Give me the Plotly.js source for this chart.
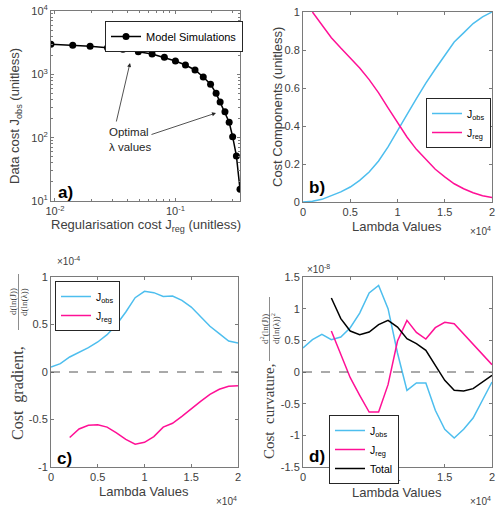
<!DOCTYPE html>
<html><head><meta charset="utf-8">
<script src="https://cdn.plot.ly/plotly-3.0.1.min.js"></script>
<style>html,body{margin:0;padding:0;background:#fff}#chart{width:500px;height:508px}</style>
</head><body><div id="chart"></div>
<script>
// ---- Panel a: L-curve (Model Simulations) ----
const jregA = [0.00926, 0.01404, 0.01957, 0.02729, 0.03664, 0.04918, 0.0640, 0.0809, 0.100, 0.1211,
               0.1454, 0.1702, 0.1957, 0.2176, 0.2350, 0.2577, 0.2793, 0.2985, 0.3207, 0.3436];
const jobsA = [2979, 2873, 2771, 2634, 2483, 2277, 2094, 1858, 1624, 1403,
               1171, 907, 696, 501, 366, 257, 175, 103.5, 51.4, 15.3];

// ---- Lambda grids ----
const lambda0 = [0,1000,2000,3000,4000,5000,6000,7000,8000,9000,10000,11000,12000,13000,14000,15000,16000,17000,18000,19000,20000];
const lambda1 = [1000,2000,3000,4000,5000,6000,7000,8000,9000,10000,11000,12000,13000,14000,15000,16000,17000,18000,19000,20000];
const lambda2 = [2000,3000,4000,5000,6000,7000,8000,9000,10000,11000,12000,13000,14000,15000,16000,17000,18000,19000,20000];
const lambda3 = [3000,4000,5000,6000,7000,8000,9000,10000,11000,12000,13000,14000,15000,16000,17000,18000,19000,20000];

// ---- Panel b: normalised cost components ----
const jobsB = [0, 0.004, 0.014, 0.032, 0.053, 0.079, 0.114, 0.158, 0.216, 0.29, 0.372, 0.46, 0.544, 0.626, 0.70, 0.772, 0.842, 0.89, 0.939, 0.974, 1.0];
const jregB = [1.0, 0.93, 0.865, 0.81, 0.758, 0.705, 0.644, 0.574, 0.495, 0.416, 0.342, 0.277, 0.223, 0.172, 0.132, 0.096, 0.07, 0.049, 0.033, 0.023];

// ---- Panel c: cost gradient (x 1e-4) ----
const jobsC = [0.053, 0.088, 0.158, 0.207, 0.256, 0.316, 0.393, 0.498, 0.632, 0.782, 0.849, 0.835, 0.796, 0.80, 0.754, 0.684, 0.586, 0.481, 0.404, 0.326, 0.305];
const jregC = [-0.69, -0.60, -0.56, -0.555, -0.58, -0.64, -0.71, -0.76, -0.74, -0.68, -0.58, -0.54, -0.467, -0.386, -0.309, -0.235, -0.182, -0.151, -0.144];

// ---- Panel d: cost curvature (x 1e-8) ----
const jobsD = [0.379, 0.51, 0.595, 0.51, 0.553, 0.70, 0.93, 1.247, 1.368, 1.0, 0.30, -0.29, -0.174, -0.174, -0.605, -0.905, -1.042, -0.905, -0.726, -0.447, -0.158];
const jregD = [0.647, 0.29, -0.09, -0.368, -0.632, -0.632, -0.2, 0.49, 0.816, 0.626, 0.52, 0.70, 0.784, 0.763, 0.605, 0.447, 0.274, 0.116];
const totalD = [1.168, 0.842, 0.647, 0.589, 0.632, 0.747, 0.816, 0.71, 0.526, 0.447, 0.342, 0.105, -0.132, -0.29, -0.30, -0.263, -0.158, -0.053];

// ---- tick labels ----
const lamTickVals = [0, 5000, 10000, 15000, 20000];
const lamTickText = ['0', '0.5', '1', '1.5', '2'];
const aXTickVals = [0.01, 0.1];
const aXTickText = ['10<sup>-2</sup>', '10<sup>-1</sup>'];
const aYTickVals = [10, 100, 1000, 10000];
const aYTickText = ['10<sup>1</sup>', '10<sup>2</sup>', '10<sup>3</sup>', '10<sup>4</sup>'];
const bYTickVals = [0, 0.2, 0.4, 0.6, 0.8, 1];
const bYTickText = ['0', '0.2', '0.4', '0.6', '0.8', '1'];
const cYTickVals = [-1, -0.5, 0, 0.5, 1];
const cYTickText = ['-1', '-0.5', '0', '0.5', '1'];
const dYTickVals = [-1.5, -1, -0.5, 0, 0.5, 1, 1.5];
const dYTickText = ['-1.5', '-1', '-0.5', '0', '0.5', '1', '1.5'];

const BLUE = 'rgb(77,190,238)';
const PINK = 'rgb(255,16,150)';
const AX = '#7a7a7a';
const TXT = '#404040';
const SANS = 'Liberation Sans, Arial, sans-serif';
const SERIF = 'Liberation Serif, DejaVu Serif, serif';

const W = 500, H = 508;
const px = v => v / W;
const py = v => 1 - v / H;

function ax(extra) {
  return Object.assign({
    showline: true, linecolor: AX, linewidth: 1, mirror: 'ticks',
    ticks: 'inside', ticklen: 3, tickcolor: AX, tickwidth: 1,
    showgrid: false, zeroline: false, tickmode: 'array',
    tickfont: {family: SANS, size: 11, color: TXT}
  }, extra);
}

const traces = [
  {x: jregA, y: jobsA, xaxis: 'x', yaxis: 'y', mode: 'lines+markers', name: 'Model Simulations',
   line: {color: 'black', width: 1.5}, marker: {color: 'black', size: 7}, legend: 'legend'},
  {x: lambda0, y: jobsB, xaxis: 'x2', yaxis: 'y2', mode: 'lines', name: 'J<sub>obs</sub>',
   line: {color: BLUE, width: 1.5}, legend: 'legend2'},
  {x: lambda1, y: jregB, xaxis: 'x2', yaxis: 'y2', mode: 'lines', name: 'J<sub>reg</sub>',
   line: {color: PINK, width: 1.5}, legend: 'legend2'},
  {x: lambda0, y: jobsC, xaxis: 'x3', yaxis: 'y3', mode: 'lines', name: 'J<sub>obs</sub>',
   line: {color: BLUE, width: 1.5}, legend: 'legend3'},
  {x: lambda2, y: jregC, xaxis: 'x3', yaxis: 'y3', mode: 'lines', name: 'J<sub>reg</sub>',
   line: {color: PINK, width: 1.5}, legend: 'legend3'},
  {x: lambda0, y: jobsD, xaxis: 'x4', yaxis: 'y4', mode: 'lines', name: 'J<sub>obs</sub>',
   line: {color: BLUE, width: 1.5}, legend: 'legend4'},
  {x: lambda3, y: jregD, xaxis: 'x4', yaxis: 'y4', mode: 'lines', name: 'J<sub>reg</sub>',
   line: {color: PINK, width: 1.5}, legend: 'legend4'},
  {x: lambda3, y: totalD, xaxis: 'x4', yaxis: 'y4', mode: 'lines', name: 'Total',
   line: {color: 'black', width: 1.5}, legend: 'legend4'}
];

function leg(x, y, size) {
  return {x: px(x), y: py(y), xanchor: 'left', yanchor: 'top', bgcolor: 'white',
          bordercolor: '#262626', borderwidth: 1, font: {family: SANS, size: size || 10.5, color: 'black'},
          tracegroupgap: 0, itemwidth: 30};
}

function txt(text, x, y, size, opts) {
  return Object.assign({text: text, x: px(x), y: py(y), xref: 'paper', yref: 'paper',
    showarrow: false, xanchor: 'center', yanchor: 'middle',
    font: {family: SANS, size: size, color: TXT}}, opts || {});
}

const annotations = [
  // axis titles
  txt('Regularisation cost J<sub>reg</sub> (unitless)', 146, 225, 13),
  txt('Data cost J<sub>obs</sub> (unitless)', 15, 116, 13, {textangle: -90}),
  txt('Lambda Values', 397, 226, 13),
  txt('Cost Components (unitless)', 278, 107, 13, {textangle: -90}),
  txt('Lambda Values', 144, 491, 13),
  txt('Lambda Values', 397, 492, 13),
  txt('\u00d710<sup>4</sup>', 480, 231, 10),
  txt('\u00d710<sup>4</sup>', 226, 501, 10),
  txt('\u00d710<sup>4</sup>', 480, 501, 10),
  txt('\u00d710<sup>-4</sup>', 68, 261, 10),
  txt('\u00d710<sup>-8</sup>', 318, 269, 10),
  // serif y titles for c and d
  txt('Cost\u00a0\u00a0gradient,', 18, 393, 16, {textangle: -90, font: {family: SERIF, size: 16, color: TXT}}),
  txt('d(ln(J))', 13, 302, 9, {textangle: -90, font: {family: SERIF, size: 9, color: TXT}}),
  txt('d(ln(\u03bb))', 24, 302, 9, {textangle: -90, font: {family: SERIF, size: 9, color: TXT}}),
  txt('Cost\u00a0\u00a0curvature,', 269, 412, 15, {textangle: -90, font: {family: SERIF, size: 15, color: TXT}}),
  txt('d<sup>2</sup>(ln(J))', 264, 329, 9, {textangle: -90, font: {family: SERIF, size: 9, color: TXT}}),
  txt('d(ln(\u03bb))<sup>2</sup>', 275, 329, 9, {textangle: -90, font: {family: SERIF, size: 9, color: TXT}}),
  // panel labels
  txt('<b>a)</b>', 65, 192, 17, {font: {family: SANS, size: 17, color: 'black'}}),
  txt('<b>b)</b>', 317, 187, 17, {font: {family: SANS, size: 17, color: 'black'}}),
  txt('<b>c)</b>', 64, 458, 17, {font: {family: SANS, size: 17, color: 'black'}}),
  txt('<b>d)</b>', 317, 456, 17, {font: {family: SANS, size: 17, color: 'black'}}),
  // optimal lambda text + arrows
  txt('Optimal<br>\u03bb values', 107, 140, 11.5, {xanchor: 'left', align: 'left', font: {family: SANS, size: 11.5, color: '#262626'}}),
  {x: px(130), y: py(63), xref: 'paper', yref: 'paper', text: '', showarrow: true,
   ax: -14, ay: 60, arrowhead: 2, arrowsize: 1, arrowwidth: 0.8, arrowcolor: '#262626', standoff: 0, startstandoff: 0},
  {x: px(216), y: py(113), xref: 'paper', yref: 'paper', text: '', showarrow: true,
   ax: -66, ay: 22, arrowhead: 2, arrowsize: 1, arrowwidth: 0.8, arrowcolor: '#262626', standoff: 0, startstandoff: 0}
];

const shapes = [
  {type: 'line', xref: 'x3 domain', yref: 'y3', x0: 0, x1: 1, y0: 0, y1: 0, line: {color: '#555', width: 1, dash: 'dash'}},
  {type: 'line', xref: 'x4 domain', yref: 'y4', x0: 0, x1: 1, y0: 0, y1: 0, line: {color: '#555', width: 1, dash: 'dash'}},
  {type: 'line', xref: 'paper', yref: 'paper', x0: px(18.5), x1: px(18.5), y0: py(274), y1: py(330), line: {color: TXT, width: 0.6}},
  {type: 'line', xref: 'paper', yref: 'paper', x0: px(269.5), x1: px(269.5), y0: py(297), y1: py(361), line: {color: TXT, width: 0.6}}
];

const layout = {
  width: W, height: H, margin: {l: 0, r: 0, t: 0, b: 0},
  paper_bgcolor: 'white', plot_bgcolor: 'white', showlegend: true,
  xaxis: ax({domain: [px(51), px(240)], anchor: 'y', type: 'log', range: [-2.033, -0.464],
             tickvals: aXTickVals, ticktext: aXTickText,
             minor: {ticks: 'inside', ticklen: 2, tickcolor: AX, dtick: 'D1', showgrid: false}}),
  yaxis: ax({domain: [py(201), py(11)], anchor: 'x', type: 'log', range: [1, 4],
             tickvals: aYTickVals, ticktext: aYTickText,
             minor: {ticks: 'inside', ticklen: 2, tickcolor: AX, dtick: 'D1', showgrid: false}}),
  xaxis2: ax({domain: [px(303), px(492)], anchor: 'y2', range: [0, 20000], tickvals: lamTickVals, ticktext: lamTickText}),
  yaxis2: ax({domain: [py(202), py(12)], anchor: 'x2', range: [0, 1], tickvals: bYTickVals, ticktext: bYTickText}),
  xaxis3: ax({domain: [px(51), px(238)], anchor: 'y3', range: [0, 20000], tickvals: lamTickVals, ticktext: lamTickText}),
  yaxis3: ax({domain: [py(467), py(277)], anchor: 'x3', range: [-1, 1], tickvals: cYTickVals, ticktext: cYTickText}),
  xaxis4: ax({domain: [px(303), px(492)], anchor: 'y4', range: [0, 20000], tickvals: lamTickVals, ticktext: lamTickText}),
  yaxis4: ax({domain: [py(467), py(277)], anchor: 'x4', range: [-1.5, 1.5], tickvals: dYTickVals, ticktext: dYTickText}),
  legend: leg(105, 21, 11),
  legend2: leg(426, 98),
  legend3: leg(55, 281),
  legend4: leg(329, 415),
  annotations: annotations,
  shapes: shapes
};

Plotly.newPlot('chart', traces, layout, {displayModeBar: false, staticPlot: true});
</script>
</body></html>
